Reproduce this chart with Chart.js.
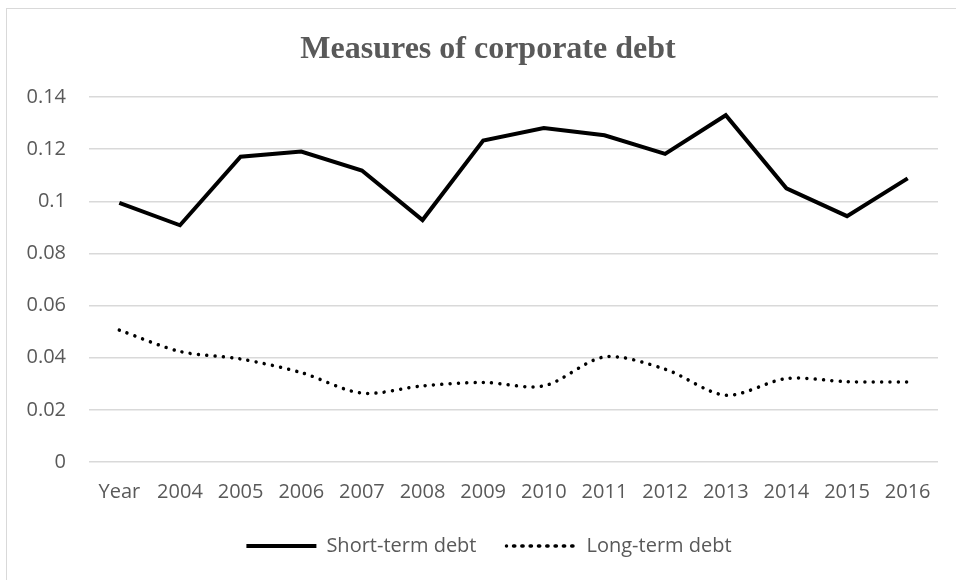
<!DOCTYPE html>
<html>
<head>
<meta charset="utf-8">
<script src="https://cdn.jsdelivr.net/npm/chart.js@4.4.1/dist/chart.umd.min.js"></script>
<style>
  html, body { margin: 0; padding: 0; background: #fff; overflow: hidden; }
  #frame { position: absolute; left: 6px; top: 8px; width: 1000px; height: 620px; border: 1.5px solid #d9d9d9; }
  #holder { position: absolute; left: 0; top: 0; width: 956px; height: 580px; }
</style>
</head>
<body>
<div id="frame"></div>
<div id="holder"><canvas id="grafico" width="956" height="580"></canvas></div>
<script>
// categorias do eixo x
const years = ["Year", "2004", "2005", "2006", "2007", "2008", "2009", "2010", "2011", "2012", "2013", "2014", "2015", "2016"];

// series
const shortTerm = [0.0994, 0.0908, 0.1171, 0.1191, 0.1118, 0.0928, 0.1233, 0.1281, 0.1253, 0.1182, 0.1330, 0.1050, 0.0943, 0.1088];
const longTerm = [0.0506, 0.0424, 0.0395, 0.0343, 0.0264, 0.0292, 0.0305, 0.0292, 0.0403, 0.0356, 0.0256, 0.0320, 0.0308, 0.0307];

const yTicks = [0, 0.02, 0.04, 0.06, 0.08, 0.1, 0.12, 0.14];

const chartTitle = "Measures of corporate debt";

const grey = "#595959";
const sans = "'Open Sans', sans-serif";

const local = document.querySelector("#grafico");

// titulo centrado como no Excel (um pouco a direita do centro do canvas)
const titlePlugin = {
  id: "excelTitle",
  afterLayout(chart) {
    // empurra a legenda para o mesmo centro do titulo
    if (chart.legend) chart.legend.left += 40;
  },
  afterDraw(chart) {
    const ctx = chart.ctx;
    ctx.save();
    ctx.font = "bold 32px 'Liberation Serif', 'Times New Roman', serif";
    ctx.fillStyle = grey;
    ctx.textAlign = "center";
    ctx.textBaseline = "middle";
    ctx.fillText(chartTitle, 488, 50);
    ctx.restore();
  }
};

let dados = {
  labels: years,
  datasets: [
    {
      label: "Short-term debt",
      data: shortTerm,
      borderColor: "#000",
      backgroundColor: "#000",
      borderWidth: 4,
      pointRadius: 0,
      tension: 0
    },
    {
      label: "Long-term debt",
      data: longTerm,
      borderColor: "#000",
      backgroundColor: "#000",
      borderWidth: 3.5,
      borderDash: [0.01, 8.3],
      borderCapStyle: "round",
      pointRadius: 0,
      tension: 0.3
    }
  ]
};

new Chart(local, {
  type: "line",
  data: dados,
  plugins: [titlePlugin],
  options: {
    responsive: false,
    animation: false,
    devicePixelRatio: 1,
    layout: { padding: { left: 0, right: 18, top: 97, bottom: 14 } },
    plugins: {
      title: { display: false },
      legend: {
        position: "bottom",
        labels: {
          color: grey,
          font: { family: sans, size: 20 },
          boxWidth: 70,
          boxHeight: 0,
          padding: 30
        }
      },
      tooltip: { enabled: false }
    },
    scales: {
      x: {
        offset: true,
        grid: { display: false, drawTicks: false },
        border: { display: false },
        ticks: { color: grey, font: { family: sans, size: 20 }, padding: 18, maxRotation: 0, autoSkip: false },
        afterFit: axis => { axis.height = axis.height - 16; }
      },
      y: {
        min: 0,
        max: 0.14,
        afterBuildTicks: axis => { axis.ticks = yTicks.map(v => ({ value: v })); },
        afterFit: axis => { axis.width = 89; },
        grid: { color: "#d9d9d9", lineWidth: 1.5, drawTicks: false },
        border: { display: false },
        ticks: {
          color: grey,
          font: { family: sans, size: 20 },
          padding: 23,
          callback: v => String(Math.round(v * 100) / 100)
        }
      }
    }
  }
});
</script>
</body>
</html>
